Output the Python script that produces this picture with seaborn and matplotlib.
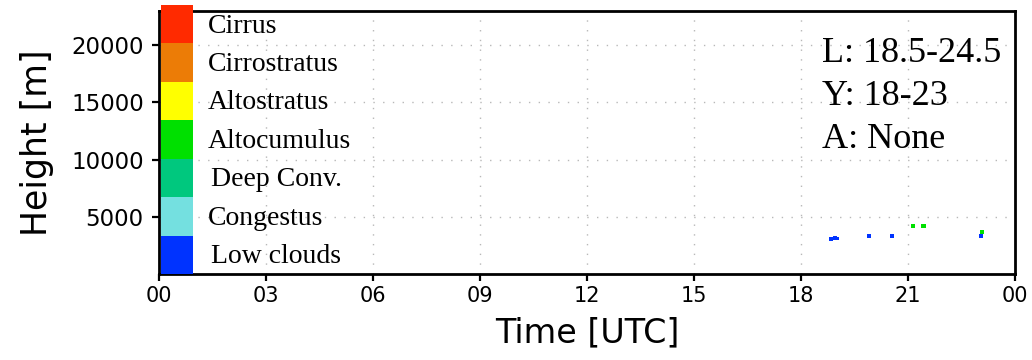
import matplotlib
matplotlib.use("Agg")
import matplotlib.pyplot as plt
import seaborn as sns
import pandas as pd

# ---- data ----
cloud_types = ["Low clouds", "Congestus", "Deep Conv.", "Altocumulus",
               "Altostratus", "Cirrostratus", "Cirrus"]
cloud_colors = ["#0033FF", "#74E0E0", "#00C87E", "#00E000",
                "#FFFF00", "#EC7C06", "#FF2A00"]

low_times = [18.84, 18.95, 19.01, 19.91, 20.55, 23.05]
low_heights = [3050, 3140, 3100, 3320, 3320, 3320]
altocu_times = [21.14, 21.40, 21.46, 23.07]
altocu_heights = [4200, 4200, 4200, 3670]

x_ticks = [0, 3, 6, 9, 12, 15, 18, 21, 24]
x_ticklabels = ["00", "03", "06", "09", "12", "15", "18", "21", "00"]
y_ticks = [5000, 10000, 15000, 20000]
annot_lines = ["L: 18.5-24.5", "Y: 18-23", "A: None"]

df = pd.DataFrame({
    "time": low_times + altocu_times,
    "height": low_heights + altocu_heights,
    "type": ["Low clouds"] * len(low_times) + ["Altocumulus"] * len(altocu_times),
})

sns.set_style("white")
plt.rcParams["font.family"] = ["DejaVu Sans"]
plt.rcParams["text.color"] = "black"
plt.rcParams["axes.labelcolor"] = "black"
plt.rcParams["xtick.color"] = "black"
plt.rcParams["ytick.color"] = "black"

fig = plt.figure(figsize=(10.32, 3.6), dpi=100)
W, H = 1032, 360
ax = fig.add_axes([159 / W, (H - 274) / H, (1015 - 159) / W, (274 - 11) / H])

palette = {t: c for t, c in zip(cloud_types, cloud_colors)}
sns.scatterplot(data=df, x="time", y="height", hue="type", palette=palette,
                marker="s", s=6, linewidth=0, legend=False, ax=ax)

ax.set_xlim(0, 24)
ax.set_ylim(0, 23000)
ax.set_xticks(x_ticks)
ax.set_xticklabels(x_ticklabels)
ax.set_yticks(y_ticks)
ax.tick_params(axis="both", direction="out", length=5, width=1.6,
               colors="black", bottom=True, left=True)
ax.tick_params(axis="x", labelsize=15)
ax.tick_params(axis="y", labelsize=16.5, pad=6)
ax.grid(True, color="#b8b8b8", linestyle=(0, (1, 6)), linewidth=1.0)
for sp in ax.spines.values():
    sp.set_visible(True)
    sp.set_color("black")
    sp.set_linewidth(2.0)
ax.set_xlabel("Time [UTC]", fontsize=24, labelpad=8, color="black")
ax.set_ylabel("Height [m]", fontsize=25, labelpad=12, color="black")

for i, line in enumerate(annot_lines):
    ax.text(0.774, 0.840 - i * 0.165, line, transform=ax.transAxes,
            fontsize=26, family="Liberation Serif", va="center", ha="left",
            color="black")

# colour strip (cloud type legend)
cax = fig.add_axes([161 / W, (H - 274) / H, 32 / W, (274 - 5) / H])
for i, (t, c) in enumerate(zip(cloud_types, cloud_colors)):
    cax.bar(0.5, 1, bottom=i, width=1, color=c, linewidth=0)
    xoff = 1.55 if t in ("Deep Conv.", "Low clouds") else 1.45
    cax.text(xoff, i + 0.45, t, transform=cax.transData, fontsize=20,
             family="Liberation Serif", va="center", ha="left", clip_on=False,
             color="black")
cax.set_xlim(0, 1)
cax.set_ylim(0, len(cloud_types))
cax.axis("off")

fig.savefig("out.png", dpi=100)
